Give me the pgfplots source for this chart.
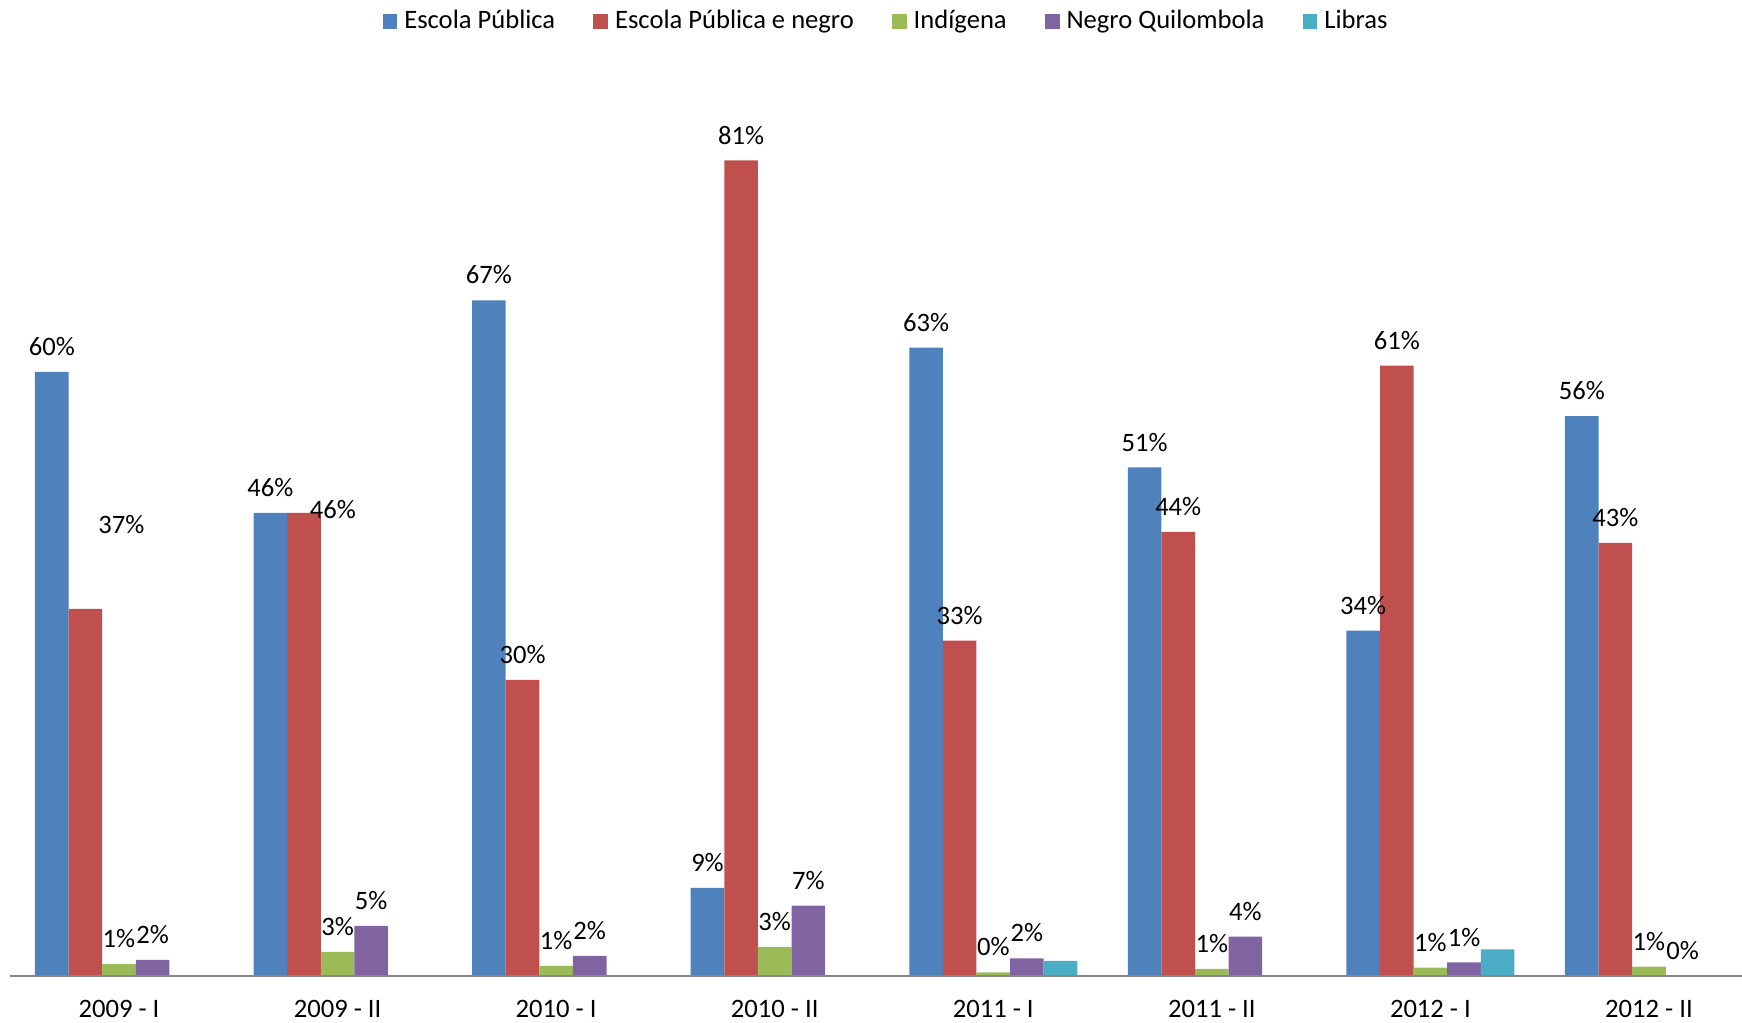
\documentclass[border=0pt]{standalone}
\usepackage{pgfplots}
\usepackage{pgfplotstable}
\pgfplotsset{compat=1.18}
\usepackage{fontspec}
\setmainfont{Carlito}

\definecolor{cEP}{HTML}{4F81BD}
\definecolor{cEPN}{HTML}{C0504D}
\definecolor{cInd}{HTML}{9BBB59}
\definecolor{cNQ}{HTML}{8064A2}
\definecolor{cLib}{HTML}{4BACC6}
\definecolor{axgray}{HTML}{868686}

% bar heights (%), label = printed value
% dx/dy: offsets (pt) of the misplaced labels of the second series
\pgfplotstableread{
x ep   epl epn   epnl dx   dy   ind  indl nq   nql lib
0 60.0 60  36.45 37   18   29.5 1.19 1    1.59 2   0
1 46.0 46  46.0  46   14.5 -11  2.4  3    4.97 5   0
2 67.1 67  29.4  30   0    0    1.0  1    2.0  2   0
3 8.75 9   81.0  81   0    0    2.9  3    7.0  7   0
4 62.4 63  33.3  33   0    0    0.37 0    1.76 2   1.49
5 50.5 51  44.1  44   0    0    0.7  1    3.9  4   0
6 34.3 34  60.6  61   0    0    0.83 1    1.36 1   2.65
7 55.6 56  43.0  43   0    0    0.93 1    0    0   0
}\data

\newcommand\chartfont{\fontsize{13.3pt}{16pt}\selectfont}

\begin{document}
\begin{tikzpicture}[font=\chartfont]
\begin{axis}[
    at={(0pt,23.5pt)}, anchor=south west,
    scale only axis, width=871pt, height=488pt,
    xmin=-0.5444, xmax=7.4256, ymin=0, ymax=96.92,
    ybar=0pt, bar width=16.8pt,
    axis line style={draw=none},
    major tick length=0pt,
    ytick=\empty,
    xtick={0,...,7},
    xticklabels={2009 - I, 2009 - II, 2010 - I, 2010 - II, 2011 - I, 2011 - II, 2012 - I, 2012 - II},
    xticklabel style={font=\chartfont, yshift=-8.5pt},
    clip=false,
    legend columns=-1,
    legend style={at={(0.5,1)}, anchor=north, xshift=8pt, yshift=-1pt, draw=none, fill=none,
        font=\chartfont,
        /tikz/every odd column/.append style={column sep=1.5pt},
        /tikz/every even column/.append style={column sep=17pt}},
    every node near coord/.append style={font=\chartfont, black, yshift=4.5pt},
    nodes near coords={\pgfplotspointmeta\%},
    sq/.style={legend image code/.code={\fill[##1] (0pt,-3.7pt) rectangle (7.4pt,3.7pt);}},
]
\addplot[fill=cEP, draw=none, sq, point meta=explicit symbolic]
    table[x=x, y=ep, meta=epl] {\data};
\addplot[fill=cEPN, draw=none, sq, point meta=explicit symbolic,
    visualization depends on={\thisrow{dx} \as \ldx},
    visualization depends on={\thisrow{dy} \as \ldy},
    nodes near coords style={xshift=\ldx, yshift=\ldy}]
    table[x=x, y=epn, meta=epnl] {\data};
\addplot[fill=cInd, draw=none, sq, point meta=explicit symbolic]
    table[x=x, y=ind, meta=indl] {\data};
\addplot[fill=cNQ, draw=none, sq, point meta=explicit symbolic]
    table[x=x, y=nq, meta=nql] {\data};
\addplot[fill=cLib, draw=none, sq, nodes near coords=]
    table[x=x, y=lib] {\data};
\legend{Escola Pública, Escola Pública e negro, Indígena, Negro Quilombola, Libras}
\draw[axgray, line width=0.8pt] (axis cs:-0.5,0) -- (axis cs:7.4256,0);
\end{axis}
\pgfresetboundingbox
\useasboundingbox (0,0) rectangle (871pt,511.5pt);
\end{tikzpicture}
\end{document}
